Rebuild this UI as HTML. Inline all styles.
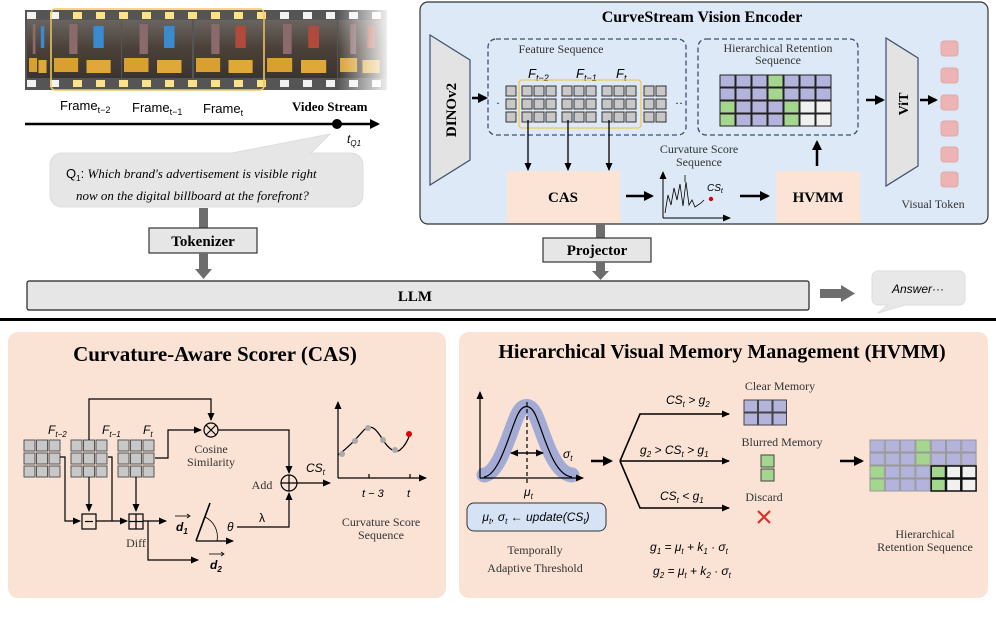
<!DOCTYPE html>
<html><head><meta charset="utf-8"><style>
body{margin:0;background:#fff}
svg{display:block}
.s{font-family:"Liberation Serif",serif}
.a{font-family:"Liberation Sans","DejaVu Sans",sans-serif}
</style></head><body>
<svg id="g" width="996" height="619" viewBox="0 0 996 619" xmlns="http://www.w3.org/2000/svg">
<defs>
<marker id="ar" markerWidth="8" markerHeight="8" refX="7" refY="4" orient="auto" markerUnits="userSpaceOnUse"><path d="M0,0.5 L8,4 L0,7.5z" fill="#000"/></marker>
<marker id="arb" markerWidth="10" markerHeight="10" refX="8" refY="5" orient="auto" markerUnits="userSpaceOnUse"><path d="M0,0 L10,5 L0,10z" fill="#000"/></marker>
<linearGradient id="fade" x1="0" x2="1"><stop offset="0" stop-color="#fff" stop-opacity="0"/><stop offset="1" stop-color="#fff" stop-opacity="0.9"/></linearGradient>
<linearGradient id="sky" x1="0" y1="0" x2="0" y2="1"><stop offset="0" stop-color="#6a6460"/><stop offset="0.5" stop-color="#4a4038"/><stop offset="1" stop-color="#3a3430"/></linearGradient>
</defs>

<!-- film strip -->
<rect x="25" y="10" width="362" height="80" fill="#555"/>
<g id="photos"></g>
<rect x="337" y="10" width="50" height="80" fill="url(#fade)"/>
<rect x="51" y="9" width="213" height="81" rx="4" fill="none" stroke="#f0c75a" stroke-width="1.5"/>

<text x="60" y="110" class="a" font-size="13">Frame<tspan font-size="9" dy="3">t−2</tspan></text>
<text x="132" y="112" class="a" font-size="13">Frame<tspan font-size="9" dy="3">t−1</tspan></text>
<text x="203" y="113" class="a" font-size="13">Frame<tspan font-size="9" dy="3">t</tspan></text>
<text x="292" y="111" class="s" font-size="13" font-weight="bold">Video Stream</text>
<line x1="25" y1="124" x2="378" y2="124" stroke="#000" stroke-width="2.5" marker-end="url(#arb)"/>
<circle cx="337" cy="124" r="5" fill="#000"/>
<text x="347" y="143" class="a" font-size="12" font-style="italic">t<tspan font-size="8" dy="3">Q1</tspan></text>

<path d="M62,153 H232 L330,134 L311,153 H351 a12,12 0 0 1 12,12 V195 a12,12 0 0 1 -12,12 H62 a12,12 0 0 1 -12,-12 V165 a12,12 0 0 1 12,-12z" fill="#e6e6e6" stroke="#ddd"/>
<text x="66" y="178" class="s" font-size="13" font-style="italic"><tspan class="a" font-style="normal">Q<tspan font-size="8" dy="3">1</tspan><tspan dy="-3">:</tspan></tspan> Which brand's advertisement is visible right</text>
<text x="76" y="200" class="s" font-size="13" font-style="italic">now on the digital billboard at the forefront?</text>

<rect x="199" y="208" width="9" height="20" fill="#6d6d6d"/>
<rect x="149" y="228" width="108" height="25" fill="#e6e6e6" stroke="#333" stroke-width="1.2"/>
<text x="203" y="246" class="s" font-size="15" font-weight="bold" text-anchor="middle">Tokenizer</text>
<rect x="199" y="253" width="9" height="17" fill="#6d6d6d"/><path d="M195,269 H212 L203.5,279z" fill="#6d6d6d"/>

<rect x="27" y="281" width="782" height="29" rx="2" fill="#e6e6e6" stroke="#222" stroke-width="1.2"/>
<text x="415" y="301" class="s" font-size="15" font-weight="bold" text-anchor="middle">LLM</text>
<rect x="820" y="289" width="22" height="9" fill="#6d6d6d"/><path d="M841,285 V302 L855,293.5z" fill="#6d6d6d"/>
<path d="M878,271 H959 a6,6 0 0 1 6,6 V299 a6,6 0 0 1 -6,6 H905 L878,313 L888,305 H878 a6,6 0 0 1 -6,-6 V277 a6,6 0 0 1 6,-6z" fill="#e8e8e8" stroke="#ddd"/>
<text x="918" y="293" class="a" font-size="12" font-style="italic" text-anchor="middle">Answer···</text>

<rect x="0" y="318" width="996" height="3" fill="#000"/>

<rect x="420" y="2" width="568" height="222" rx="8" fill="#dde9f6" stroke="#333" stroke-width="1.2"/>
<text x="702" y="22" class="s" font-size="16" font-weight="bold" text-anchor="middle">CurveStream Vision Encoder</text>
<path d="M430,35 L470,60 V160 L430,185z" fill="#e3e3e3" stroke="#3b4f75" stroke-width="1.2"/>
<text transform="translate(456,110) rotate(-90)" class="s" font-size="15" font-weight="bold" text-anchor="middle">DINOv2</text>
<line x1="472" y1="98" x2="486" y2="98" stroke="#000" stroke-width="2.5" marker-end="url(#arb)"/>

<rect x="488" y="39" width="198" height="96" rx="8" fill="none" stroke="#3b4f75" stroke-width="1.3" stroke-dasharray="5,3"/>
<text x="561" y="53" class="s" font-size="12" text-anchor="middle" fill="#333">Feature Sequence</text>
<text x="528" y="78" class="a" font-size="13" font-style="italic">F<tspan font-size="9" dy="3">t−2</tspan></text>
<text x="576" y="78" class="a" font-size="13" font-style="italic">F<tspan font-size="9" dy="3">t−1</tspan></text>
<text x="616" y="78" class="a" font-size="13" font-style="italic">F<tspan font-size="9" dy="3">t</tspan></text>
<g id="fs"></g>
<rect x="519" y="80" width="122" height="48" rx="3" fill="none" stroke="#f0c75a" stroke-width="1.3"/>
<text x="496" y="107" font-size="12">·</text><text x="675" y="107" font-size="12">··</text>
<line x1="528" y1="120" x2="528" y2="170" stroke="#000" stroke-width="1.3" marker-end="url(#ar)"/>
<line x1="568" y1="120" x2="568" y2="170" stroke="#000" stroke-width="1.3" marker-end="url(#ar)"/>
<line x1="609" y1="120" x2="609" y2="170" stroke="#000" stroke-width="1.3" marker-end="url(#ar)"/>

<rect x="698" y="39" width="160" height="96" rx="8" fill="none" stroke="#3b4f75" stroke-width="1.3" stroke-dasharray="5,3"/>
<text x="778" y="52" class="s" font-size="12" text-anchor="middle" fill="#333">Hierarchical Retention</text>
<text x="778" y="64" class="s" font-size="12" text-anchor="middle" fill="#333">Sequence</text>
<g id="hr1"></g>

<rect x="507" y="171" width="113" height="52" fill="#fbe4d5"/>
<text x="563" y="202" class="s" font-size="15" font-weight="bold" text-anchor="middle">CAS</text>
<line x1="626" y1="196" x2="652" y2="196" stroke="#000" stroke-width="2.5" marker-end="url(#arb)"/>
<text x="699" y="153" class="s" font-size="12" text-anchor="middle" fill="#333">Curvature Score</text>
<text x="699" y="166" class="s" font-size="12" text-anchor="middle" fill="#333">Sequence</text>
<line x1="663" y1="218" x2="663" y2="172" stroke="#000" stroke-width="1" marker-end="url(#ar)"/>
<line x1="663" y1="218" x2="730" y2="218" stroke="#000" stroke-width="1" marker-end="url(#ar)"/>
<polyline points="665,213 668,195 671,205 674,188 677,200 680,184 683,206 686,182 689,205 692,200 695,207 701,203 704,200" fill="none" stroke="#000" stroke-width="0.8"/>
<line x1="685" y1="182" x2="685" y2="175" stroke="#000" stroke-width="0.8"/>
<circle cx="711" cy="199" r="2.2" fill="#d00"/>
<text x="707" y="191" class="a" font-size="10" font-style="italic">CS<tspan font-size="7" dy="2">t</tspan></text>
<line x1="740" y1="196" x2="768" y2="196" stroke="#000" stroke-width="2.5" marker-end="url(#arb)"/>
<rect x="776" y="171" width="84" height="52" fill="#fbe4d5"/>
<text x="818" y="202" class="s" font-size="15" font-weight="bold" text-anchor="middle">HVMM</text>
<line x1="817" y1="166" x2="817" y2="142" stroke="#000" stroke-width="2.5" marker-end="url(#arb)"/>
<line x1="866" y1="100" x2="883" y2="100" stroke="#000" stroke-width="2.5" marker-end="url(#arb)"/>
<path d="M886,38 L918,58 V166 L886,186z" fill="#e3e3e3" stroke="#3b4f75" stroke-width="1.2"/>
<text transform="translate(908,104) rotate(-90)" class="s" font-size="14" font-weight="bold" text-anchor="middle">ViT</text>
<line x1="920" y1="100" x2="936" y2="100" stroke="#000" stroke-width="2.5" marker-end="url(#arb)"/>
<g fill="#ecb4b4" stroke="#e3a8a8"><rect x="941" y="41" width="17" height="15" rx="3"/><rect x="941" y="68" width="17" height="15" rx="3"/><rect x="941" y="95" width="17" height="15" rx="3"/><rect x="941" y="121" width="17" height="15" rx="3"/><rect x="941" y="147" width="17" height="15" rx="3"/><rect x="941" y="172" width="17" height="15" rx="3"/></g>
<text x="933" y="208" class="s" font-size="12" text-anchor="middle" fill="#333">Visual Token</text>

<rect x="596" y="224" width="9" height="14" fill="#6d6d6d"/>
<rect x="543" y="238" width="108" height="24" fill="#e6e6e6" stroke="#333" stroke-width="1.2"/>
<text x="597" y="255" class="s" font-size="15" font-weight="bold" text-anchor="middle">Projector</text>
<rect x="596" y="262" width="9" height="10" fill="#6d6d6d"/><path d="M592,271 H609 L600.5,280z" fill="#6d6d6d"/>

<rect x="8" y="332" width="438" height="266" rx="10" fill="#fae3d5"/>
<text x="215" y="361" class="s" font-size="21" font-weight="bold" text-anchor="middle">Curvature-Aware Scorer (CAS)</text>
<g id="cg"></g>
<text x="48" y="434" class="a" font-size="12" font-style="italic">F<tspan font-size="8" dy="3">t−2</tspan></text>
<text x="102" y="434" class="a" font-size="12" font-style="italic">F<tspan font-size="8" dy="3">t−1</tspan></text>
<text x="143" y="434" class="a" font-size="12" font-style="italic">F<tspan font-size="8" dy="3">t</tspan></text>
<g fill="none" stroke="#000" stroke-width="1.2">
<polyline points="89,440 89,399 211,399 211,420" marker-end="url(#ar)"/>
<polyline points="155,458 168,458 168,430 201,430" marker-end="url(#ar)"/>
<circle cx="211" cy="430" r="7"/><path d="M206,425 L216,435 M216,425 L206,435"/>
<polyline points="218,430 289,430 289,473" marker-end="url(#ar)"/>
<circle cx="289" cy="483" r="8"/><path d="M281,483 H297 M289,475 V491"/>
<line x1="297" y1="483" x2="330" y2="483" marker-end="url(#ar)"/>
<polyline points="60,457 65,457 65,521 80,521" marker-end="url(#ar)"/>
<line x1="89" y1="477" x2="89" y2="511" marker-end="url(#ar)"/>
<rect x="82" y="514" width="14" height="15"/><path d="M85,521.5 H93"/>
<polyline points="108,457 112,457 112,521"/>
<line x1="96" y1="521" x2="127" y2="521" marker-end="url(#ar)"/>
<line x1="136" y1="477" x2="136" y2="511" marker-end="url(#ar)"/>
<rect x="129" y="514" width="14" height="15"/><path d="M136,514 V529 M129,521.5 H143"/>
<line x1="143" y1="521" x2="166" y2="521" marker-end="url(#ar)"/>
<polyline points="148,521 148,560 198,560" marker-end="url(#ar)"/>
<line x1="196" y1="541" x2="210" y2="503" stroke-width="1.6"/>
<line x1="196" y1="541" x2="233" y2="541" marker-end="url(#ar)"/>
<path d="M205,517 A22,22 0 0 1 217,541" stroke-width="0.8"/>
<polyline points="237,527 289,527 289,493" marker-end="url(#ar)"/>
<line x1="338" y1="478" x2="338" y2="402" marker-end="url(#ar)"/>
<line x1="338" y1="478" x2="426" y2="478" marker-end="url(#ar)"/>
<path d="M369,478 v-4 M410,478 v-4"/>
<path d="M338,455 C348,448 355,440 364,430 C372,422 378,432 383,440 C388,448 395,454 400,450 C405,446 408,440 410,434"/>
</g>
<g fill="#aaa"><circle cx="342" cy="454" r="3"/><circle cx="355" cy="441" r="3"/><circle cx="368" cy="428" r="3"/><circle cx="383" cy="440" r="3"/><circle cx="395" cy="450" r="3"/></g>
<circle cx="409" cy="434" r="3" fill="#d00"/>
<text x="211" y="453" class="s" font-size="12" text-anchor="middle" fill="#333">Cosine</text>
<text x="211" y="466" class="s" font-size="12" text-anchor="middle" fill="#333">Similarity</text>
<text x="262" y="489" class="s" font-size="12" text-anchor="middle" fill="#333">Add</text>
<text x="306" y="472" class="a" font-size="12" font-style="italic">CS<tspan font-size="8" dy="3">t</tspan></text>
<text x="136" y="547" class="s" font-size="12" text-anchor="middle" fill="#333">Diff</text>
<text x="176" y="531" class="a" font-size="12" font-weight="bold" font-style="italic">d<tspan font-size="8" dy="3">1</tspan></text>
<path d="M175,516 H189" stroke="#000" stroke-width="0.8"/><path d="M187,514 L190,516 L187,518" fill="none" stroke="#000" stroke-width="0.8"/>
<text x="210" y="569" class="a" font-size="12" font-weight="bold" font-style="italic">d<tspan font-size="8" dy="3">2</tspan></text>
<path d="M209,554 H223" stroke="#000" stroke-width="0.8"/><path d="M221,552 L224,554 L221,556" fill="none" stroke="#000" stroke-width="0.8"/>
<text x="227" y="531" class="a" font-size="12" font-style="italic">θ</text>
<text x="259" y="522" class="a" font-size="12">λ</text>
<text x="362" y="497" class="a" font-size="11" font-style="italic">t − 3</text>
<text x="407" y="497" class="a" font-size="11" font-style="italic">t</text>
<text x="381" y="526" class="s" font-size="12" text-anchor="middle" fill="#333">Curvature Score</text>
<text x="381" y="539" class="s" font-size="12" text-anchor="middle" fill="#333">Sequence</text>

<rect x="459" y="332" width="529" height="266" rx="10" fill="#fae3d5"/>
<text x="722" y="358" class="s" font-size="20" font-weight="bold" text-anchor="middle">Hierarchical Visual Memory Management (HVMM)</text>
<path d="M484,475 C500,473 510,430 518,414 C523,404 530,404 535,414 C543,430 552,473 572,475" fill="none" stroke="#a3abd5" stroke-width="15" stroke-linecap="round"/>
<g fill="none" stroke="#000" stroke-width="1.2">
<line x1="480" y1="478" x2="480" y2="392" marker-end="url(#ar)"/>
<line x1="480" y1="478" x2="583" y2="478" marker-end="url(#ar)"/>
<path d="M484,477 C500,475 510,430 518,414 C523,404 530,404 535,414 C543,430 552,475 572,477"/>
<line x1="527" y1="402" x2="527" y2="485" stroke-dasharray="4,3"/>
<line x1="511" y1="453" x2="543" y2="453" marker-end="url(#ar)"/>
<line x1="543" y1="453" x2="511" y2="453" marker-end="url(#ar)"/>
<polyline points="620,461 640,414 729,414" stroke-width="1.6" marker-end="url(#ar)"/>
<line x1="620" y1="461" x2="729" y2="461" stroke-width="1.6" marker-end="url(#ar)"/>
<polyline points="620,461 640,508 729,508" stroke-width="1.6" marker-end="url(#ar)"/>
</g>
<text x="563" y="458" class="a" font-size="12" font-style="italic">σ<tspan font-size="8" dy="3">t</tspan></text>
<text x="524" y="496" class="a" font-size="12" font-style="italic">μ<tspan font-size="8" dy="3">t</tspan></text>
<rect x="467" y="503" width="139" height="28" rx="7" fill="#d6e3f5" stroke="#333" stroke-width="1"/>
<text x="536" y="521" class="a" font-size="12" font-style="italic" text-anchor="middle">μ<tspan font-size="8" dy="3">t</tspan><tspan dy="-3">, σ</tspan><tspan font-size="8" dy="3">t</tspan><tspan dy="-3"> ← update(CS</tspan><tspan font-size="8" dy="3">t</tspan><tspan dy="-3">)</tspan></text>
<text x="535" y="554" class="s" font-size="12" text-anchor="middle" fill="#333">Temporally</text>
<text x="535" y="572" class="s" font-size="12" text-anchor="middle" fill="#333">Adaptive Threshold</text>
<line x1="591" y1="461" x2="611" y2="461" stroke="#000" stroke-width="2.5" marker-end="url(#arb)"/>
<text x="666" y="404" class="a" font-size="12" font-style="italic">CS<tspan font-size="8" dy="3">t</tspan><tspan dy="-3"> &gt; g</tspan><tspan font-size="8" dy="3">2</tspan></text>
<text x="640" y="454" class="a" font-size="12" font-style="italic">g<tspan font-size="8" dy="3">2</tspan><tspan dy="-3"> &gt; CS</tspan><tspan font-size="8" dy="3">t</tspan><tspan dy="-3"> &gt; g</tspan><tspan font-size="8" dy="3">1</tspan></text>
<text x="660" y="500" class="a" font-size="12" font-style="italic">CS<tspan font-size="8" dy="3">t</tspan><tspan dy="-3"> &lt; g</tspan><tspan font-size="8" dy="3">1</tspan></text>
<text x="780" y="390" class="s" font-size="12" text-anchor="middle" fill="#333">Clear Memory</text>
<text x="782" y="446" class="s" font-size="12" text-anchor="middle" fill="#333">Blurred Memory</text>
<text x="764" y="501" class="s" font-size="12" text-anchor="middle" fill="#333">Discard</text>
<path d="M758,511 L770,523 M770,511 L758,523" stroke="#d9302a" stroke-width="2.2"/>
<g id="cm"></g>
<text x="650" y="551" class="a" font-size="12" font-style="italic">g<tspan font-size="8" dy="3">1</tspan><tspan dy="-3"> = μ</tspan><tspan font-size="8" dy="3">t</tspan><tspan dy="-3"> + k</tspan><tspan font-size="8" dy="3">1</tspan><tspan dy="-3"> · σ</tspan><tspan font-size="8" dy="3">t</tspan></text>
<text x="653" y="575" class="a" font-size="12" font-style="italic">g<tspan font-size="8" dy="3">2</tspan><tspan dy="-3"> = μ</tspan><tspan font-size="8" dy="3">t</tspan><tspan dy="-3"> + k</tspan><tspan font-size="8" dy="3">2</tspan><tspan dy="-3"> · σ</tspan><tspan font-size="8" dy="3">t</tspan></text>
<line x1="840" y1="461" x2="862" y2="461" stroke="#000" stroke-width="2.5" marker-end="url(#arb)"/>
<g id="hr2"></g>
<text x="925" y="538" class="s" font-size="12" text-anchor="middle" fill="#333">Hierarchical</text>
<text x="925" y="551" class="s" font-size="12" text-anchor="middle" fill="#333">Retention Sequence</text>
</svg>
<script>
var NS="http://www.w3.org/2000/svg";
function R(g,x,y,w,h,f,s,sw){var r=document.createElementNS(NS,"rect");r.setAttribute("x",x);r.setAttribute("y",y);r.setAttribute("width",w);r.setAttribute("height",h);r.setAttribute("fill",f);if(s){r.setAttribute("stroke",s);r.setAttribute("stroke-width",sw||1);}document.getElementById(g).appendChild(r);}
var fr=[[27,23],[52,69],[122,70],[194,69],[265,72],[338,49]];
fr.forEach(function(p,i){R("photos",p[0],20,p[1],58,"url(#sky)");R("photos",p[0]+p[1]*0.25,24,p[1]*0.12,30,"#8a6a6a");R("photos",p[0]+p[1]*0.6,26,p[1]*0.15,22,i<3?"#3a8ad0":"#b04a3a");R("photos",p[0]+2,58,p[1]*0.35,14,"#d9a030");R("photos",p[0]+p[1]*0.5,60,p[1]*0.35,13,"#e0a838");});
for(var x=27;x<385;x+=23){var y=(x>50&&x<262)?"#fde08a":"#f2f2f2";R("photos",x,12,9,7,y);R("photos",x,80,9,7,y);}
var cols=[506,522,534,546,562,574,586,602,614,626,644,656];
cols.forEach(function(x){for(var r=0;r<3;r++)R("fs",x,86+r*13,10,10,"#c8c8c8","#333",1);});
var P="#b3b3dc",G="#a5d68f",W="#f0f0f0";
var pat=[[P,P,P,G,P,P,P],[P,P,P,G,P,P,P],[G,P,P,P,G,W,W],[G,P,P,P,G,W,W]];
pat.forEach(function(row,r){row.forEach(function(c,k){R("hr1",720+k*16,75+r*13,15,12,c,"#222",1);R("hr2",870+k*15.3,440+r*13,14.3,12,c,(r>1&&k>3)?"#111":"#999",(r>1&&k>3)?1.5:1);});});
[24,71,118].forEach(function(x0){for(var r=0;r<3;r++)for(var k=0;k<3;k++)R("cg",x0+k*12.5,440+r*13,11,11,"#c8c8c8","#555",1);});
for(var r=0;r<2;r++)for(var k=0;k<3;k++)R("cm",744+k*14.5,400+r*13,13.5,12,P,"#444",1);
R("cm",761,455,13,12,G,"#444",1);R("cm",761,469,13,12,G,"#444",1);
</script>
</body></html>
